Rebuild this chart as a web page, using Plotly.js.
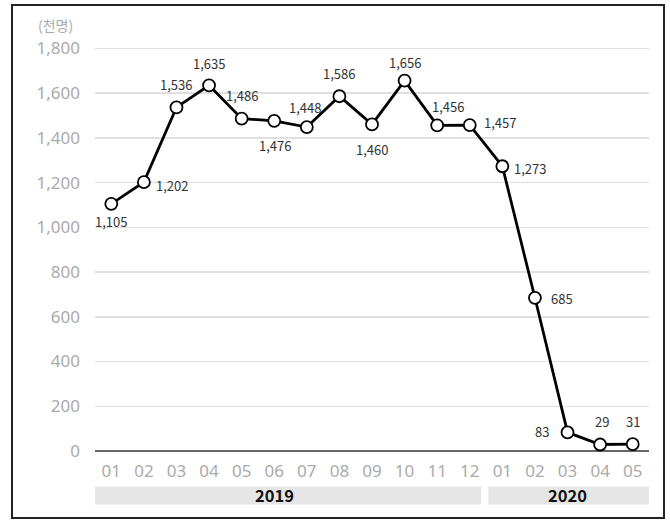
<!DOCTYPE html>
<html>
<head>
<meta charset="utf-8">
<script src="https://cdn.plot.ly/plotly-3.0.1.min.js"></script>
<style>
  html, body { margin: 0; padding: 0; background: #fff; }
  #chart { width: 670px; height: 521px; }
</style>
</head>
<body>
<div id="chart"></div>
<script>
// ---- data ----
const months = ["01","02","03","04","05","06","07","08","09","10","11","12","01","02","03","04","05"];
const values = [1105,1202,1536,1635,1486,1476,1448,1586,1460,1656,1456,1457,1273,685,83,29,31];
const years = ["2019","2020"];
const yTickVals = [0,200,400,600,800,1000,1200,1400,1600,1800];
const unitLabel = "(천명)";

// ---- label placement (pixel offsets, dx, dy upward) ----
const labelOffsets = [
  [0,-18],[28,-3],[0,23],[0,22],[0,23],[1,-25],[-2,20],[0,23],[0,-25],
  [0,18],[11,19],[30,3],[28,-2],[27,-1],[-26,1],[2,23],[0,23]
];

const xIdx = months.map((m, i) => i);
const FONT = "'Noto Sans CJK KR', 'Noto Sans', sans-serif";
const TICKFONT = "'Noto Sans', 'Noto Sans CJK KR', sans-serif";

const trace = {
  x: xIdx,
  y: values,
  type: 'scatter',
  mode: 'lines+markers',
  line: { color: '#000', width: 2.8 },
  marker: { size: 12, color: '#fff', line: { color: '#000', width: 1.8 } },
  cliponaxis: false,
  hoverinfo: 'skip'
};

const annotations = values.map((v, i) => ({
  x: xIdx[i], y: v, xref: 'x', yref: 'y',
  text: v.toLocaleString('en-US'),
  showarrow: false,
  xshift: labelOffsets[i][0], yshift: labelOffsets[i][1],
  font: { family: FONT, size: 13, color: '#333' }
}));

// unit label
annotations.push({
  xref: 'paper', yref: 'paper', x: -0.036, y: 1.002,
  xanchor: 'right', yanchor: 'middle',
  text: unitLabel, showarrow: false,
  font: { family: FONT, size: 14, color: '#aaa' }
});

// year labels
const yearPos = [5, 14];
years.forEach((yr, k) => {
  annotations.push({
    xref: 'x', yref: 'paper', x: yearPos[k], y: -0.1047,
    text: '<b>' + yr + '</b>', showarrow: false,
    yanchor: 'middle',
    font: { family: FONT, size: 16.5, color: '#111' }
  });
});

const shapes = [
  // year bands
  { type: 'rect', xref: 'x', yref: 'paper', x0: -0.5, x1: 11.35, y0: -0.1259, y1: -0.0835,
    fillcolor: '#e6e6e6', line: { width: 0 }, layer: 'below' },
  { type: 'rect', xref: 'x', yref: 'paper', x0: 11.57, x1: 16.5, y0: -0.1259, y1: -0.0835,
    fillcolor: '#e6e6e6', line: { width: 0 }, layer: 'below' },
  // outer frame
  { type: 'rect', xref: 'paper', yref: 'paper', x0: -0.1498, x1: 1.0271, y0: -0.1576, y1: 1.0494,
    line: { color: '#222', width: 2 }, fillcolor: 'rgba(0,0,0,0)' }
];

const layout = {
  width: 670, height: 521,
  margin: { l: 95, r: 21, t: 26, b: 70 },
  paper_bgcolor: '#fff', plot_bgcolor: '#fff',
  showlegend: false,
  xaxis: {
    range: [-0.5, 16.5],
    tickvals: xIdx, ticktext: months,
    showgrid: false, zeroline: false, showline: false,
    ticks: '',
    tickfont: { family: TICKFONT, size: 17, color: '#aaa' },
    ticklabelstandoff: 8,
    fixedrange: true
  },
  yaxis: {
    range: [0, 1900],
    tickvals: yTickVals,
    ticktext: yTickVals.map(v => v.toLocaleString('en-US')),
    showgrid: true, gridcolor: '#e0e0e0', gridwidth: 1.5,
    zeroline: true, zerolinecolor: '#666', zerolinewidth: 2,
    showline: false, ticks: '',
    ticklabelstandoff: 14,
    tickfont: { family: TICKFONT, size: 17, color: '#aaa' },
    fixedrange: true
  },
  annotations: annotations,
  shapes: shapes
};

Plotly.newPlot('chart', [trace], layout, { displayModeBar: false, staticPlot: true });
</script>
</body>
</html>
